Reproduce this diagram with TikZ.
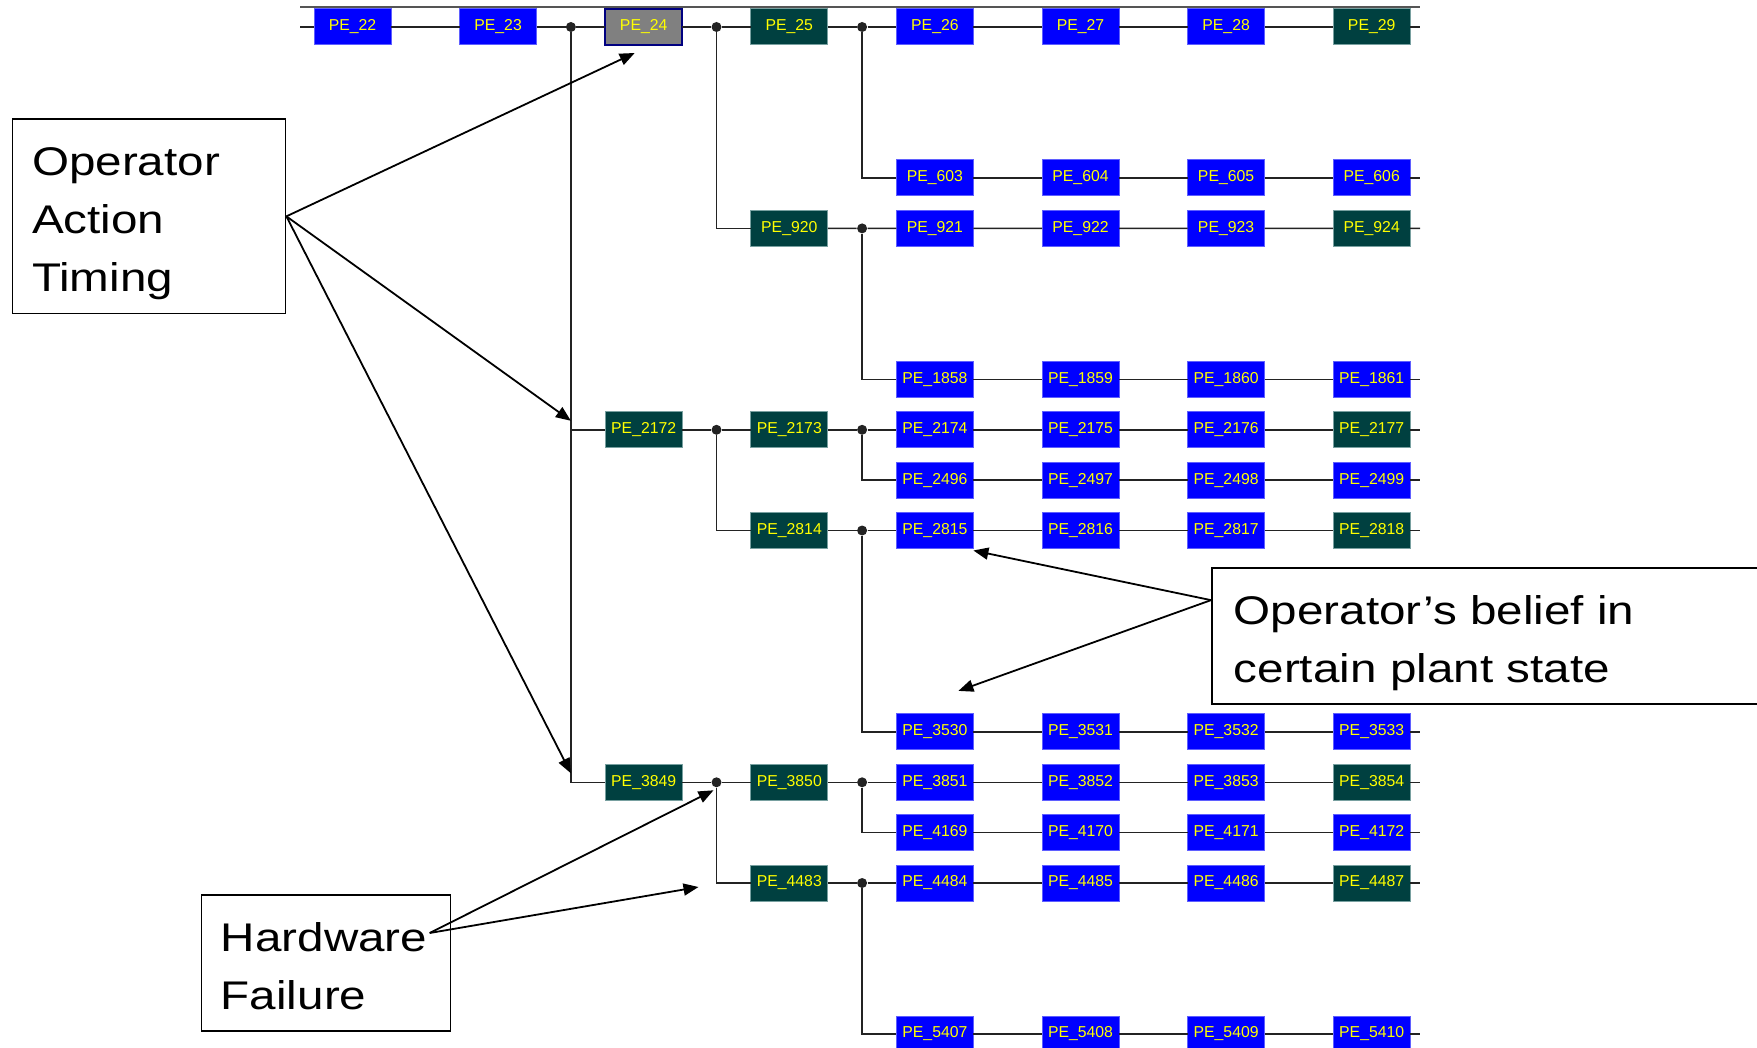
\documentclass[tikz,border=0pt]{standalone}
\usepackage{fontspec}
\usetikzlibrary{arrows.meta, positioning, calc}
\newfontfamily\peFont{Liberation Sans}
\newfontfamily\calloutFont[FakeStretch=1.19]{Liberation Sans}
\definecolor{cBlueFill}{RGB}{0, 0, 255}
\definecolor{cBlueDraw}{RGB}{95, 95, 255}
\definecolor{cTealFill}{RGB}{0, 64, 64}
\definecolor{cTealDraw}{RGB}{120, 160, 160}
\definecolor{cGreyFill}{RGB}{128, 128, 128}
\definecolor{cGreyDraw}{RGB}{0, 0, 128}
\definecolor{cPeText}{RGB}{255, 255, 0}
\definecolor{wireColor}{RGB}{35, 35, 35}
\definecolor{frameColor}{RGB}{85, 85, 85}
\tikzset{
    % --- event boxes ---
    pebox/.style={
        rectangle, minimum width=38.5pt, minimum height=18pt,
        inner sep=0pt, outer sep=0pt, line width=0.5pt,
        text=cPeText, font=\peFont\fontsize{7.9}{8}\selectfont
    },
    peBlue/.style={ pebox, fill=cBlueFill, draw=cBlueDraw },
    peTeal/.style={ pebox, fill=cTealFill, draw=cTealDraw },
    peGrey/.style={ pebox, fill=cGreyFill, draw=cGreyDraw, line width=0.8pt },
    junction/.style={ circle, fill=wireColor, inner sep=0pt, minimum size=5pt },
    %
    % --- lines ---
    wire/.style={ draw=wireColor, line width=0.75pt },
    frameLine/.style={ draw=frameColor, line width=0.8pt },
    pointer/.style={
        draw=black, line width=0.9pt,
        -{Triangle[length=7.5pt, width=6pt]}
    },
    %
    % --- callouts ---
    callout/.style={
        rectangle, draw=black, line width=0.85pt, fill=white,
        anchor=north west, align=left,
        inner xsep=9.75pt, inner ysep=6.4pt,
        font=\calloutFont\fontsize{20}{29}\selectfont
    }
}

\begin{document}
\begin{tikzpicture}[x=0.5pt, y=-0.5pt, node distance=34.3pt]

	% =========================================
	% 0. Frame
	% =========================================
	\useasboundingbox (0,0) rectangle (1757,1048);
	\clip (0,0) rectangle (1757,1048);
	\draw[frameLine] (300,7) -- (1420,7);
	\coordinate (xl) at (300,0);
	\coordinate (xr) at (1420,0);

	% =========================================
	% 1. Event rows
	% =========================================

	% --- PE_22 .. PE_29 ---
	\node[peBlue] at (352.5,27) (p22) {PE\_22};
	\node[peBlue, right=of p22] (p23) {PE\_23};
	\node[peGrey, right=of p23] (p24) {PE\_24};
	\node[peTeal, right=of p24] (p25) {PE\_25};
	\node[peBlue, right=of p25] (p26) {PE\_26};
	\node[peBlue, right=of p26] (p27) {PE\_27};
	\node[peBlue, right=of p27] (p28) {PE\_28};
	\node[peTeal, right=of p28] (p29) {PE\_29};

	% --- PE_603 .. PE_606 ---
	\node[peBlue] at (934.9,178) (p603) {PE\_603};
	\node[peBlue, right=of p603] (p604) {PE\_604};
	\node[peBlue, right=of p604] (p605) {PE\_605};
	\node[peBlue, right=of p605] (p606) {PE\_606};

	% --- PE_920 .. PE_924 ---
	\node[peTeal] at (789.3,228.4) (p920) {PE\_920};
	\node[peBlue, right=of p920] (p921) {PE\_921};
	\node[peBlue, right=of p921] (p922) {PE\_922};
	\node[peBlue, right=of p922] (p923) {PE\_923};
	\node[peTeal, right=of p923] (p924) {PE\_924};

	% --- PE_1858 .. PE_1861 ---
	\node[peBlue] at (934.9,379.5) (p1858) {PE\_1858};
	\node[peBlue, right=of p1858] (p1859) {PE\_1859};
	\node[peBlue, right=of p1859] (p1860) {PE\_1860};
	\node[peBlue, right=of p1860] (p1861) {PE\_1861};

	% --- PE_2172 .. PE_2177 ---
	\node[peTeal] at (643.7,429.8) (p2172) {PE\_2172};
	\node[peTeal, right=of p2172] (p2173) {PE\_2173};
	\node[peBlue, right=of p2173] (p2174) {PE\_2174};
	\node[peBlue, right=of p2174] (p2175) {PE\_2175};
	\node[peBlue, right=of p2175] (p2176) {PE\_2176};
	\node[peTeal, right=of p2176] (p2177) {PE\_2177};

	% --- PE_2496 .. PE_2499 ---
	\node[peBlue] at (934.9,480.2) (p2496) {PE\_2496};
	\node[peBlue, right=of p2496] (p2497) {PE\_2497};
	\node[peBlue, right=of p2497] (p2498) {PE\_2498};
	\node[peBlue, right=of p2498] (p2499) {PE\_2499};

	% --- PE_2814 .. PE_2818 ---
	\node[peTeal] at (789.3,530.5) (p2814) {PE\_2814};
	\node[peBlue, right=of p2814] (p2815) {PE\_2815};
	\node[peBlue, right=of p2815] (p2816) {PE\_2816};
	\node[peBlue, right=of p2816] (p2817) {PE\_2817};
	\node[peTeal, right=of p2817] (p2818) {PE\_2818};

	% --- PE_3530 .. PE_3533 ---
	\node[peBlue] at (934.9,731.9) (p3530) {PE\_3530};
	\node[peBlue, right=of p3530] (p3531) {PE\_3531};
	\node[peBlue, right=of p3531] (p3532) {PE\_3532};
	\node[peBlue, right=of p3532] (p3533) {PE\_3533};

	% --- PE_3849 .. PE_3854 ---
	\node[peTeal] at (643.7,782.3) (p3849) {PE\_3849};
	\node[peTeal, right=of p3849] (p3850) {PE\_3850};
	\node[peBlue, right=of p3850] (p3851) {PE\_3851};
	\node[peBlue, right=of p3851] (p3852) {PE\_3852};
	\node[peBlue, right=of p3852] (p3853) {PE\_3853};
	\node[peTeal, right=of p3853] (p3854) {PE\_3854};

	% --- PE_4169 .. PE_4172 ---
	\node[peBlue] at (934.9,832.6) (p4169) {PE\_4169};
	\node[peBlue, right=of p4169] (p4170) {PE\_4170};
	\node[peBlue, right=of p4170] (p4171) {PE\_4171};
	\node[peBlue, right=of p4171] (p4172) {PE\_4172};

	% --- PE_4483 .. PE_4487 ---
	\node[peTeal] at (789.3,883) (p4483) {PE\_4483};
	\node[peBlue, right=of p4483] (p4484) {PE\_4484};
	\node[peBlue, right=of p4484] (p4485) {PE\_4485};
	\node[peBlue, right=of p4485] (p4486) {PE\_4486};
	\node[peTeal, right=of p4486] (p4487) {PE\_4487};

	% --- PE_5407 .. PE_5410 ---
	\node[peBlue] at (934.9,1034) (p5407) {PE\_5407};
	\node[peBlue, right=of p5407] (p5408) {PE\_5408};
	\node[peBlue, right=of p5408] (p5409) {PE\_5409};
	\node[peBlue, right=of p5409] (p5410) {PE\_5410};

	% =========================================
	% 2. Branch points
	% =========================================
	\node[junction] at ($(p23.east)!0.5!(p24.west)$) (j24) {};
	\node[junction] at ($(p24.east)!0.5!(p25.west)$) (j25) {};
	\node[junction] at ($(p25.east)!0.5!(p26.west)$) (j26) {};
	\node[junction] at ($(p920.east)!0.5!(p921.west)$) (j921) {};
	\node[junction] at ($(p2172.east)!0.5!(p2173.west)$) (j2173) {};
	\node[junction] at ($(p2173.east)!0.5!(p2174.west)$) (j2174) {};
	\node[junction] at ($(p2814.east)!0.5!(p2815.west)$) (j2815) {};
	\node[junction] at ($(p3849.east)!0.5!(p3850.west)$) (j3850) {};
	\node[junction] at ($(p3850.east)!0.5!(p3851.west)$) (j3851) {};
	\node[junction] at ($(p4483.east)!0.5!(p4484.west)$) (j4484) {};

	% =========================================
	% 3. Row wires
	% =========================================
	\draw[wire] (xl |- p22) -- (p22) -- (p23) -- (j24) -- (p24) -- (j25) -- (p25) -- (j26)
		-- (p26) -- (p27) -- (p28) -- (p29) -- (xr |- p29);
	\draw[wire] (p603) -- (p604) -- (p605) -- (p606) -- (xr |- p606);
	\draw[wire] (p920) -- (j921) -- (p921) -- (p922) -- (p923) -- (p924) -- (xr |- p924);
	\draw[wire] (p1858) -- (p1859) -- (p1860) -- (p1861) -- (xr |- p1861);
	\draw[wire] (p2172) -- (j2173) -- (p2173) -- (j2174) -- (p2174) -- (p2175) -- (p2176) -- (p2177) -- (xr |- p2177);
	\draw[wire] (p2496) -- (p2497) -- (p2498) -- (p2499) -- (xr |- p2499);
	\draw[wire] (p2814) -- (j2815) -- (p2815) -- (p2816) -- (p2817) -- (p2818) -- (xr |- p2818);
	\draw[wire] (p3530) -- (p3531) -- (p3532) -- (p3533) -- (xr |- p3533);
	\draw[wire] (p3849) -- (j3850) -- (p3850) -- (j3851) -- (p3851) -- (p3852) -- (p3853) -- (p3854) -- (xr |- p3854);
	\draw[wire] (p4169) -- (p4170) -- (p4171) -- (p4172) -- (xr |- p4172);
	\draw[wire] (p4483) -- (j4484) -- (p4484) -- (p4485) -- (p4486) -- (p4487) -- (xr |- p4487);
	\draw[wire] (p5407) -- (p5408) -- (p5409) -- (p5410) -- (xr |- p5410);

	% --- branches ---
	\draw[wire] (j24) |- (p2172);
	\draw[wire] (j24) |- (p3849);
	\draw[wire] (j25) |- (p920);
	\draw[wire] (j26) |- (p603);
	\draw[wire] (j921) |- (p1858);
	\draw[wire] (j2173) |- (p2814);
	\draw[wire] (j2174) |- (p2496);
	\draw[wire] (j2815) |- (p3530);
	\draw[wire] (j3850) |- (p4483);
	\draw[wire] (j3851) |- (p4169);
	\draw[wire] (j4484) |- (p5407);

	% =========================================
	% 4. Callouts
	% =========================================
	\node[callout, text width=117pt] at (11.7,118.3) (oat) {
		\rule{0pt}{22pt}Operator\\Action\\Timing\rule[-4.4pt]{0pt}{4.4pt}
	};
	\node[callout, text width=105pt] at (200.5,894) (hw) {
		\rule{0pt}{22pt}Hardware\\Failure\rule[-4.4pt]{0pt}{4.4pt}
	};
	\node[callout, text width=280pt, inner xsep=11pt] at (1211,567) (bel) {
		\rule{0pt}{22pt}Operator’s belief in\\certain plant state\rule[-4.4pt]{0pt}{4.4pt}
	};

	\coordinate (hwOut) at ($(hw.north east)+(-21.5,39)$);
	\coordinate (belOut) at ($(bel.north west)!0.24!(bel.south west)$);

	% [Operator Action Timing]
	\draw[pointer] (oat.east) -- ($(p24.south)+(-9,8)$);
	\draw[pointer] (oat.east) -- ($(j24 |- p2172)+(0,-9)$);
	\draw[pointer] (oat.east) -- ($(j24 |- p3849)+(0,-9)$);

	% [Hardware Failure]
	\draw[pointer] (hwOut) -- ($(j3850)+(-3,8)$);
	\draw[pointer] (hwOut) -- ($(j3850 |- p4483)+(-18,4)$);

	% [Operator's belief]
	\draw[pointer] (belOut) -- ($(p2815.south east)+(0,2)$);
	\draw[pointer] (belOut) -- ($(p3530.north east)+(-15,-23)$);

\end{tikzpicture}
\end{document}
